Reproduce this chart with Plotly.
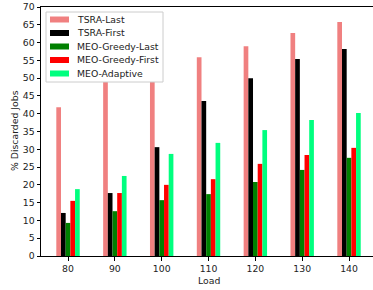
import plotly.graph_objects as go

loads = [80, 90, 100, 110, 120, 130, 140]
tsra_last = [41.8, 50.0, 53.0, 55.9, 59.0, 62.7, 65.8]
tsra_first = [12.1, 17.7, 30.6, 43.6, 50.0, 55.4, 58.2]
meo_greedy_last = [9.3, 12.6, 15.7, 17.4, 20.8, 24.2, 27.6]
meo_greedy_first = [15.5, 17.7, 20.0, 21.6, 25.9, 28.4, 30.4]
meo_adaptive = [18.8, 22.5, 28.7, 31.8, 35.4, 38.2, 40.2]

series = [
    ("TSRA-Last", tsra_last, "#F08080"),
    ("TSRA-First", tsra_first, "#000000"),
    ("MEO-Greedy-Last", meo_greedy_last, "#008000"),
    ("MEO-Greedy-First", meo_greedy_first, "#FF0000"),
    ("MEO-Adaptive", meo_adaptive, "#00FF7F"),
]

W, H = 373, 290
L, R, T, B = 41, 0, 7, 34
pw, ph = W - L - R, H - T - B

def px_x(p):
    return (p - L) / pw

def px_y(p):
    return 1 - (p - T) / ph

fig = go.Figure()
for name, vals, color in series:
    fig.add_trace(go.Bar(x=loads, y=vals, name=name, showlegend=False,
                         marker=dict(color=color, line=dict(width=0))))

font = dict(family="DejaVu Sans", size=9.3, color="#222222")

shapes = []
annotations = []
# legend box
shapes.append(dict(type="rect", xref="paper", yref="paper", layer="above",
                   x0=px_x(46), x1=px_x(163), y0=px_y(82), y1=px_y(12),
                   fillcolor="white", line=dict(color="#cccccc", width=1)))
for i, (name, vals, color) in enumerate(series):
    cy = 19.5 + 13.5 * i
    shapes.append(dict(type="rect", xref="paper", yref="paper", layer="above",
                       x0=px_x(50), x1=px_x(69), y0=px_y(cy + 3), y1=px_y(cy - 3),
                       fillcolor=color, line=dict(width=0)))
    annotations.append(dict(text=name, xref="paper", yref="paper",
                            x=px_x(75), y=px_y(cy), xanchor="left", yanchor="middle",
                            showarrow=False, font=font))

annotations.append(dict(text="Load", xref="paper", yref="paper",
                        x=px_x(209), y=px_y(280), xanchor="center", yanchor="middle",
                        showarrow=False, font=font))
annotations.append(dict(text="% Discarded Jobs", xref="paper", yref="paper",
                        x=px_x(14), y=px_y(131), xanchor="center", yanchor="middle",
                        textangle=-90, showarrow=False, font=font))

fig.update_layout(
    width=W, height=H,
    margin=dict(l=L, r=R, t=T, b=B, autoexpand=False),
    paper_bgcolor="white", plot_bgcolor="white",
    barmode="group", bargap=0.5, bargroupgap=0,
    font=font,
    showlegend=False,
    shapes=shapes,
    annotations=annotations,
    xaxis=dict(range=[74.23, 145.12], tickvals=loads, ticktext=[str(v) for v in loads],
               showline=True, linecolor="#000000", linewidth=1, mirror=True,
               ticks="outside", ticklen=3.5, tickcolor="#000000", showgrid=False, zeroline=False,
               automargin=False, tickfont=font),
    yaxis=dict(range=[0, 70], tickvals=list(range(0, 71, 5)),
               showline=True, linecolor="#000000", linewidth=1,
               ticks="outside", ticklen=3.5, tickcolor="#000000", showgrid=False, zeroline=False,
               automargin=False, tickfont=font),
)

fig.write_html("out.html", config={"displayModeBar": False},
               post_script="document.body.style.margin='0px';document.body.style.overflow='hidden';")
